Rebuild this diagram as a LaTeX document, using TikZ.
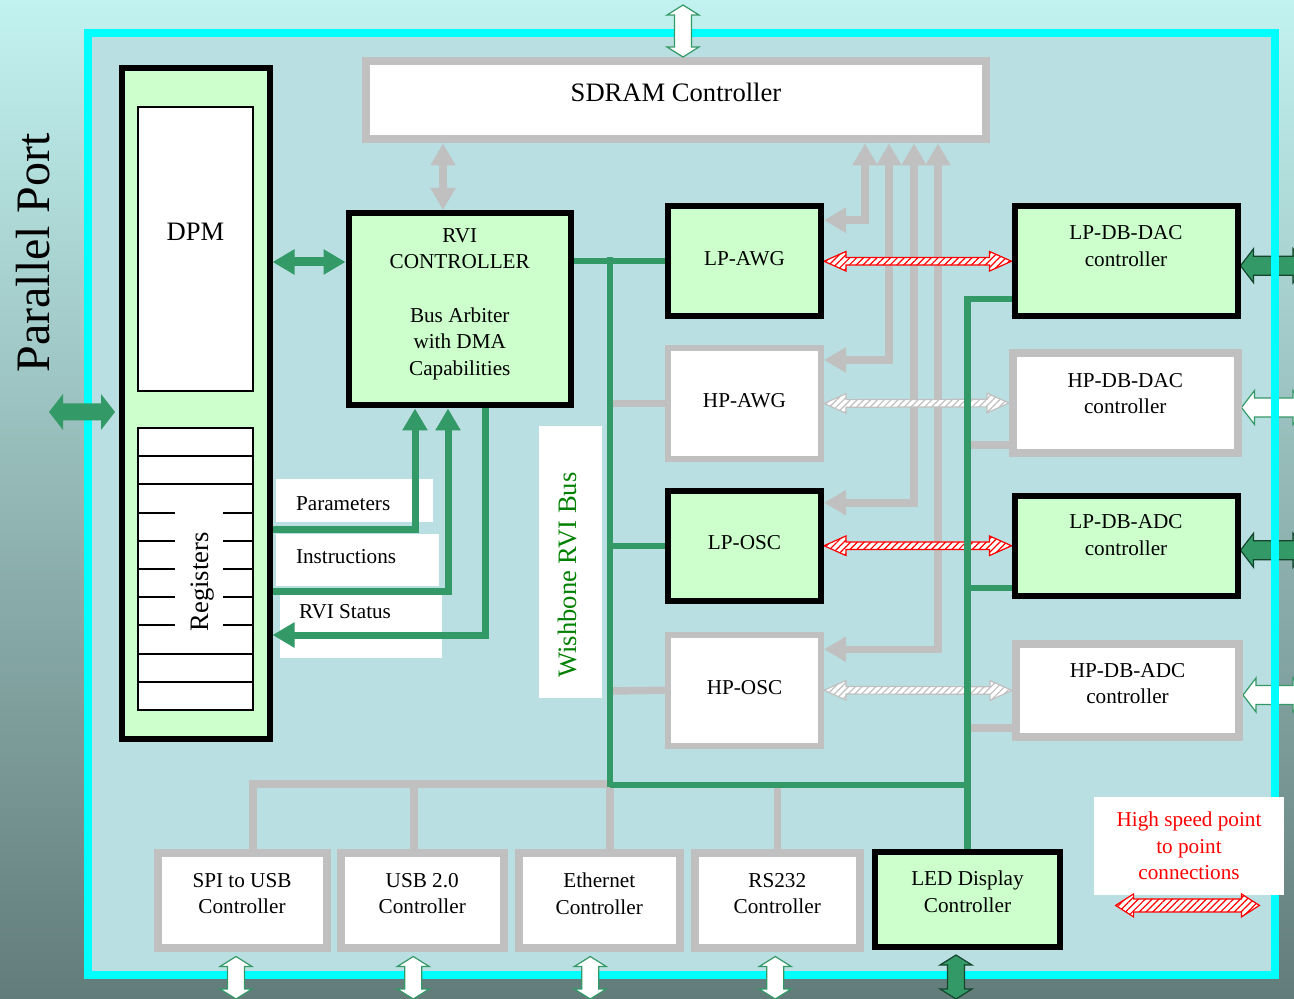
\documentclass[tikz,border=0pt]{standalone}
\usepackage{fontspec}
\setmainfont{Liberation Serif}
\usetikzlibrary{arrows.meta,calc,patterns.meta}

\definecolor{bgtop}{RGB}{194,242,240}
\definecolor{bgbottom}{RGB}{98,124,122}
\definecolor{panel}{RGB}{185,223,226}
\definecolor{paneledge}{RGB}{0,255,255}
\definecolor{lpfill}{RGB}{204,255,204}
\definecolor{bus}{RGB}{51,153,102}
\definecolor{link}{RGB}{192,192,192}
\definecolor{wbtext}{RGB}{0,128,0}
\definecolor{edgegreen}{RGB}{20,70,45}

\pgfdeclarelayer{back}
\pgfdeclarelayer{wires}
\pgfsetlayers{back,wires,main}

\newcommand{\txtsmall}{\fontsize{10.6}{13.3}\selectfont}
\newcommand{\txtbig}{\fontsize{13.3}{16}\selectfont}
\newcommand{\txthuge}{\fontsize{24}{28}\selectfont}

% block arrow: style, from, to, shaft half width, head half width, head length
\newcommand{\blockarrow}[6]{%
  \draw[#1] (#2) -- ($(#2)!#6!(#3)!#5!90:(#3)$) -- ($(#2)!#6!(#3)!#4!90:(#3)$)
    -- ($(#3)!#6!(#2)!#4!-90:(#2)$) -- ($(#3)!#6!(#2)!#5!-90:(#2)$) -- (#3)
    -- ($(#3)!#6!(#2)!#5!90:(#2)$) -- ($(#3)!#6!(#2)!#4!90:(#2)$)
    -- ($(#2)!#6!(#3)!#4!-90:(#3)$) -- ($(#2)!#6!(#3)!#5!-90:(#3)$) -- cycle;}

\tikzset{
  lpblock/.style={draw=black, line width=3pt, fill=lpfill, inner sep=0pt},
  hpblock/.style={draw=link, line width=3pt, fill=white, inner sep=0pt},
  ioblock/.style={draw=link, line width=4pt, fill=white, inner sep=0pt},
  memblock/.style={draw=black, line width=1pt, fill=white, inner sep=0pt},
  busline/.style={draw=bus, line width=3.25pt},
  flowline/.style={draw=bus, line width=3.5pt},
  linkline/.style={draw=link, line width=3.75pt},
  bigtip/.tip={Triangle[length=11pt,width=12pt]},
  fastlink/.style={draw=red, line width=0.6pt, preaction={fill=white},
    pattern={Lines[angle=45,distance=2.4pt,line width=0.6pt]}, pattern color=red},
  slowlink/.style={fastlink, draw=link, pattern color=link},
  openport/.style={draw=bus, line width=0.6pt, fill=white},
  greenport/.style={draw=edgegreen, line width=0.6pt, fill=bus},
  portfill/.style={draw=none, fill=bus}
}

\begin{document}
\begin{tikzpicture}[x=0.5pt, y=-0.5pt, every node/.style={font=\txtsmall, align=center}]
\useasboundingbox (0,0) rectangle (1294,999);

\node[lpblock, minimum width=73.75pt, minimum height=335.25pt] (dpm) at (195.75,403.75) {};
\node[memblock, minimum width=57.5pt, minimum height=142pt,
  label={[yshift=8.5pt, font=\txtbig]center:DPM}] (dpmmem) at (195.5,249) {};
\node[memblock, minimum width=57.5pt, minimum height=141pt] (regs) at (195.5,569) {};
\foreach \i in {1,2,8,9}
  \draw[line width=1pt] (138,{428+28.2*\i}) -- (253,{428+28.2*\i});
\foreach \i in {3,...,7} {
  \draw[line width=1pt] (138,{428+28.2*\i}) -- (175,{428+28.2*\i});
  \draw[line width=1pt] (223,{428+28.2*\i}) -- (253,{428+28.2*\i});
}
\node[rotate=90, font=\txtbig] (regtext) at (203,582) {Registers};

\node[ioblock, minimum width=310pt, minimum height=39.25pt,
  label={[yshift=3.75pt, font=\txtbig]center:SDRAM Controller}] (sdram) at (676,100.25) {};
\node[lpblock, minimum width=111.25pt, minimum height=96.25pt,
  label={[yshift=2.6pt]center:RVI\\CONTROLLER\\[13.3pt]Bus Arbiter\\with DMA\\Capabilities}] (rvi) at (459.75,309.25) {};

\node[lpblock, minimum width=76.5pt, minimum height=54.75pt,
  label={[yshift=1.5pt]center:LP-AWG}] (lpawg) at (744.5,261.25) {};
\node[hpblock, minimum width=76.5pt, minimum height=55.5pt,
  label={[yshift=1.5pt]center:HP-AWG}] (hpawg) at (744.5,403.5) {};
\node[lpblock, minimum width=76.5pt, minimum height=55.25pt,
  label={[yshift=1.5pt]center:LP-OSC}] (lposc) at (744.5,545.75) {};
\node[hpblock, minimum width=76.5pt, minimum height=55.25pt,
  label={[yshift=1.5pt]center:HP-OSC}] (hposc) at (744.5,690.25) {};

\node[lpblock, minimum width=111.5pt, minimum height=54.75pt,
  label={[yshift=7.5pt]center:LP-DB-DAC\\controller}] (lpdac) at (1126,261.25) {};
\node[ioblock, minimum width=112.25pt, minimum height=50pt,
  label={[yshift=4.75pt]center:HP-DB-DAC\\controller}] (hpdac) at (1125.25,403) {};
\node[lpblock, minimum width=111.5pt, minimum height=49.75pt,
  label={[yshift=5.4pt]center:LP-DB-ADC\\controller}] (lpadc) at (1126,545.75) {};
\node[ioblock, minimum width=111.5pt, minimum height=46.5pt,
  label={[yshift=3.5pt]center:HP-DB-ADC\\controller}] (hpadc) at (1127.5,690.5) {};

\node[ioblock, minimum width=84.5pt, minimum height=47.25pt,
  label={[yshift=3.4pt]center:SPI to USB\\Controller}] (spiusb) at (242,900.25) {};
\node[ioblock, minimum width=81.75pt, minimum height=47.25pt,
  label={[yshift=3.4pt]center:USB 2.0\\Controller}] (usb) at (422.25,900.25) {};
\node[ioblock, minimum width=80.75pt, minimum height=47.25pt,
  label={[yshift=3.4pt]center:Ethernet\\Controller}] (eth) at (599.25,900.25) {};
\node[ioblock, minimum width=82.25pt, minimum height=47.25pt,
  label={[yshift=3.4pt]center:RS232\\Controller}] (rs232) at (777.25,900.25) {};
\node[lpblock, minimum width=92.5pt, minimum height=47.5pt,
  label={[yshift=4pt]center:LED Display\\Controller}] (led) at (967.5,899.5) {};

\node[fill=white, minimum width=95pt, minimum height=49pt, text=red] (legend) at (1189,846)
  {High speed point\\to point\\connections};

\node[rotate=90, font=\txthuge] (pport) at (33,253) {Parallel Port};
\node[anchor=west] (paramtext) at (289,504) {Parameters};
\node[anchor=west] (instrtext) at (289,557) {Instructions};
\node[anchor=west] (statustext) at (292,612) {RVI Status};
\node[rotate=90, font=\txtbig, text=wbtext] (wbtext) at (567,575) {Wishbone RVI Bus};

\coordinate (dacA) at ([yshift=-2.25pt]lpdac.east);
\coordinate (dacB) at (dacA -| 1306,0);
\coordinate (hdacA) at ([yshift=-2.25pt]hpdac.east);
\coordinate (hdacB) at (hdacA -| 1306,0);
\coordinate (adcA) at ([yshift=-2.25pt]lpadc.east);
\coordinate (adcB) at (adcA -| 1306,0);
\coordinate (hadcA) at ([yshift=-2.25pt]hpadc.east);
\coordinate (hadcB) at (hadcA -| 1306,0);
\coordinate (sdramA) at (sdram.north -| 683,0);
\coordinate (sdramB) at (683,5);
\coordinate (spiA) at ($(spiusb.south)+(-6,5)$);
\coordinate (spiB) at (spiA |- 0,999);
\coordinate (usbA) at ($(usb.south)+(-9,5)$);
\coordinate (usbB) at (usbA |- 0,999);
\coordinate (ethA) at ($(eth.south)+(-9,5)$);
\coordinate (ethB) at (ethA |- 0,999);
\coordinate (rsA) at ($(rs232.south)+(-2,5)$);
\coordinate (rsB) at (rsA |- 0,999);
\coordinate (ledA) at ($(led.south)+(-11.5,5)$);
\coordinate (ledB) at (ledA |- 0,999);
\coordinate (ppA) at (49,412);
\coordinate (ppB) at ($(dpm.west |- 0,412)+(-4,0)$);
\coordinate (legA) at ($(legend.south west)+(22,10)$);
\coordinate (legB) at ($(legend.south east)+(-25,10)$);

\begin{pgfonlayer}{back}
\shade[top color=bgtop, bottom color=bgbottom] (0,0) rectangle (1294,999);
\fill[panel] (88,33) rectangle (1275,975);
\blockarrow{greenport}{dacA}{dacB}{4.75pt}{8.5pt}{6.5pt}
\blockarrow{openport}{hdacA}{hdacB}{4.75pt}{8.5pt}{6.5pt}
\blockarrow{greenport}{adcA}{adcB}{4.75pt}{8.5pt}{6.5pt}
\blockarrow{openport}{hadcA}{hadcB}{4.75pt}{8.5pt}{6.5pt}
\draw[paneledge, line width=4pt] (88,33) rectangle (1275,975);
\fill[white] (276,479) rectangle (433,522);
\fill[white] (276,534) rectangle (439,586);
\fill[white] (280,595) rectangle (442,658);
\fill[white] (539,426) rectangle (602,698);
\end{pgfonlayer}

\begin{pgfonlayer}{wires}
\draw[linkline, bigtip-bigtip] (sdram.south -| 443,0) -- (rvi.north -| 443,0);
\draw[linkline, bigtip-bigtip] (sdram.south -| 865,0) |- ([yshift=20.5pt]lpawg.east);
\draw[linkline, bigtip-bigtip] (sdram.south -| 889,0) |- ([yshift=21.75pt]hpawg.east);
\draw[linkline, bigtip-bigtip] (sdram.south -| 914,0) |- ([yshift=21.5pt]lposc.east);
\draw[linkline, bigtip-bigtip] (sdram.south -| 938,0) |- ([yshift=20.5pt]hposc.east);

\blockarrow{fastlink}{lpawg.east}{lpdac.west}{1.9pt}{4.9pt}{11pt}
\blockarrow{slowlink}{hpawg.east}{hpdac.west}{1.9pt}{4.9pt}{11pt}
\blockarrow{fastlink}{lposc.east}{lpadc.west}{1.9pt}{4.9pt}{11pt}
\blockarrow{slowlink}{hposc.east}{hpadc.west}{1.9pt}{4.9pt}{11pt}

\draw[linkline] (610,403.5) -- (hpawg.west);
\draw[linkline] (610,691) -- (hposc.west);
\draw[linkline] (led.north |- 0,445) -- (hpdac.west |- 0,445);
\draw[linkline] (led.north |- 0,728) -- (hpadc.west |- 0,728);
\draw[linkline] (608,784) -| (spiusb.north -| 253,0);
\draw[linkline] (414,784) -- (usb.north -| 414,0);
\draw[linkline] (610,786) -- (eth.north -| 610,0);
\draw[linkline] (rs232.north |- 0,785) -- (rs232.north);

\draw[busline] (rvi.east |- lpawg.west) -- (lpawg.west);
\draw[busline] (610,257) -- (610,787);
\draw[busline] (610,545.75) -- (lposc.west);
\draw[busline] (610,785) -- (led.north |- 0,785);
\draw[busline] (lpdac.west |- 0,299) -| (led.north);
\draw[busline] (led.north |- 0,588) -- (lpadc.west |- 0,588);

\draw[flowline, line width=4.5pt, bigtip-bigtip] (dpm.east |- 0,262) -- (rvi.west |- 0,262);
\draw[flowline, -bigtip] (dpm.east |- 0,529) -| (rvi.south -| 415,0);
\draw[flowline, -bigtip] (dpm.east |- 0,591) -| (rvi.south -| 448,0);
\draw[flowline, -bigtip] (rvi.south -| 485,0) |- (dpm.east |- 0,635);
\end{pgfonlayer}

\blockarrow{openport}{sdramA}{sdramB}{4.25pt}{8pt}{5pt}
\blockarrow{openport}{spiA}{spiB}{4.25pt}{8pt}{5pt}
\blockarrow{openport}{usbA}{usbB}{4.25pt}{8pt}{5pt}
\blockarrow{openport}{ethA}{ethB}{4.25pt}{8pt}{5pt}
\blockarrow{openport}{rsA}{rsB}{4.25pt}{8pt}{5pt}
\blockarrow{greenport}{ledA}{ledB}{4.25pt}{8pt}{5pt}
\blockarrow{portfill}{ppA}{ppB}{4.25pt}{9pt}{7pt}
\blockarrow{fastlink}{legA}{legB}{3.25pt}{5.75pt}{9pt}
\end{tikzpicture}
\end{document}
